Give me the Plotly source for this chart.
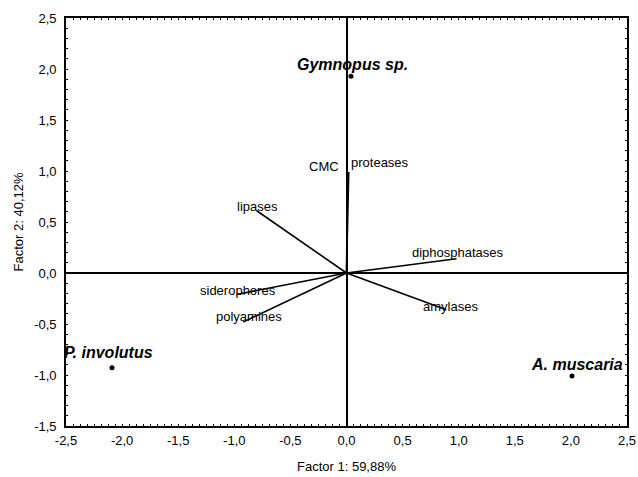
import plotly.graph_objects as go

# ---- data ----
species = ["Gymnopus sp.", "P. involutus", "A. muscaria"]
species_f1 = [0.04, -2.09, 2.01]
species_f2 = [1.93, -0.93, -1.01]

variables = ["proteases", "CMC", "lipases", "diphosphatases", "siderophores", "polyamines", "amylases"]
var_f1 = [0.02, 0.01, -0.80, 0.98, -0.98, -0.92, 0.89]
var_f2 = [0.99, 0.96, 0.61, 0.14, -0.21, -0.48, -0.36]

x_ticks = [-2.5, -2.0, -1.5, -1.0, -0.5, 0.0, 0.5, 1.0, 1.5, 2.0, 2.5]
x_ticklabels = ["-2,5", "-2,0", "-1,5", "-1,0", "-0,5", "0,0", "0,5", "1,0", "1,5", "2,0", "2,5"]
y_ticks = [-1.5, -1.0, -0.5, 0.0, 0.5, 1.0, 1.5, 2.0, 2.5]
y_ticklabels = ["-1,5", "-1,0", "-0,5", "0,0", "0,5", "1,0", "1,5", "2,0", "2,5"]

# ---- label styling (pixel offsets relative to marks) ----
var_label_style = {
    "proteases": ("left", 0, 10),
    "CMC": ("right", -7, 9),
    "lipases": ("left", -22, 4),
    "diphosphatases": ("left", -46, 6),
    "siderophores": ("left", -39, 4),
    "polyamines": ("left", -29, 5),
    "amylases": ("left", -25, 3),
}
species_label_style = {
    "Gymnopus sp.": ("center", 2, 12),
    "P. involutus": ("left", -50, 15),
    "A. muscaria": ("right", 53, 12),
}

FONT = "Liberation Sans, Arial, sans-serif"

fig = go.Figure()

# vectors
for name, fx, fy in zip(variables, var_f1, var_f2):
    fig.add_trace(go.Scatter(
        x=[0, fx], y=[0, fy], mode="lines",
        line=dict(color="black", width=1.6),
        hoverinfo="skip", showlegend=False,
    ))

# species points
fig.add_trace(go.Scatter(
    x=species_f1, y=species_f2, mode="markers",
    marker=dict(color="black", size=5),
    showlegend=False,
))

annotations = []
for name, fx, fy in zip(variables, var_f1, var_f2):
    anchor, dx, dy = var_label_style[name]
    annotations.append(dict(
        x=fx, y=fy, xref="x", yref="y", text=name, showarrow=False,
        xanchor=anchor, yanchor="middle", xshift=dx, yshift=dy,
        font=dict(family=FONT, size=13, color="black"),
    ))
for name, fx, fy in zip(species, species_f1, species_f2):
    anchor, dx, dy = species_label_style[name]
    annotations.append(dict(
        x=fx, y=fy, xref="x", yref="y", text="<b><i>" + name + "</i></b>", showarrow=False,
        xanchor=anchor, yanchor="middle", xshift=dx, yshift=dy,
        font=dict(family=FONT, size=16, color="black"),
    ))

axis_common = dict(
    showgrid=False, automargin=False,
    zeroline=True, zerolinecolor="black", zerolinewidth=1.6,
    showline=True, linecolor="black", linewidth=1.6, mirror="ticks",
    ticks="inside", ticklen=2, tickcolor="black",
    tickfont=dict(family=FONT, size=13, color="black"),
)

fig.update_layout(
    width=638, height=477,
    margin=dict(l=66, r=11, t=18, b=51),
    paper_bgcolor="white", plot_bgcolor="white",
    annotations=annotations,
    xaxis=dict(
        range=[-2.5, 2.5], tickvals=x_ticks, ticktext=x_ticklabels,
        minor=dict(ticks="inside", ticklen=2, dtick=0.0625, tickcolor="black"),
        ticklabelstandoff=2,
        title=dict(text="Factor 1: 59,88%", font=dict(family=FONT, size=13, color="black"), standoff=14),
        **axis_common,
    ),
    yaxis=dict(
        range=[-1.5, 2.5], tickvals=y_ticks, ticktext=y_ticklabels,
        minor=dict(ticks="inside", ticklen=2, dtick=0.1, tickcolor="black"),
        ticklabelstandoff=5,
        title=dict(text="Factor 2: 40,12%", font=dict(family=FONT, size=13, color="black"), standoff=8),
        **axis_common,
    ),
)

fig.write_html(
    "out.html",
    config={"displayModeBar": False},
    post_script="document.body.style.margin='0';document.body.style.overflow='hidden';",
)
